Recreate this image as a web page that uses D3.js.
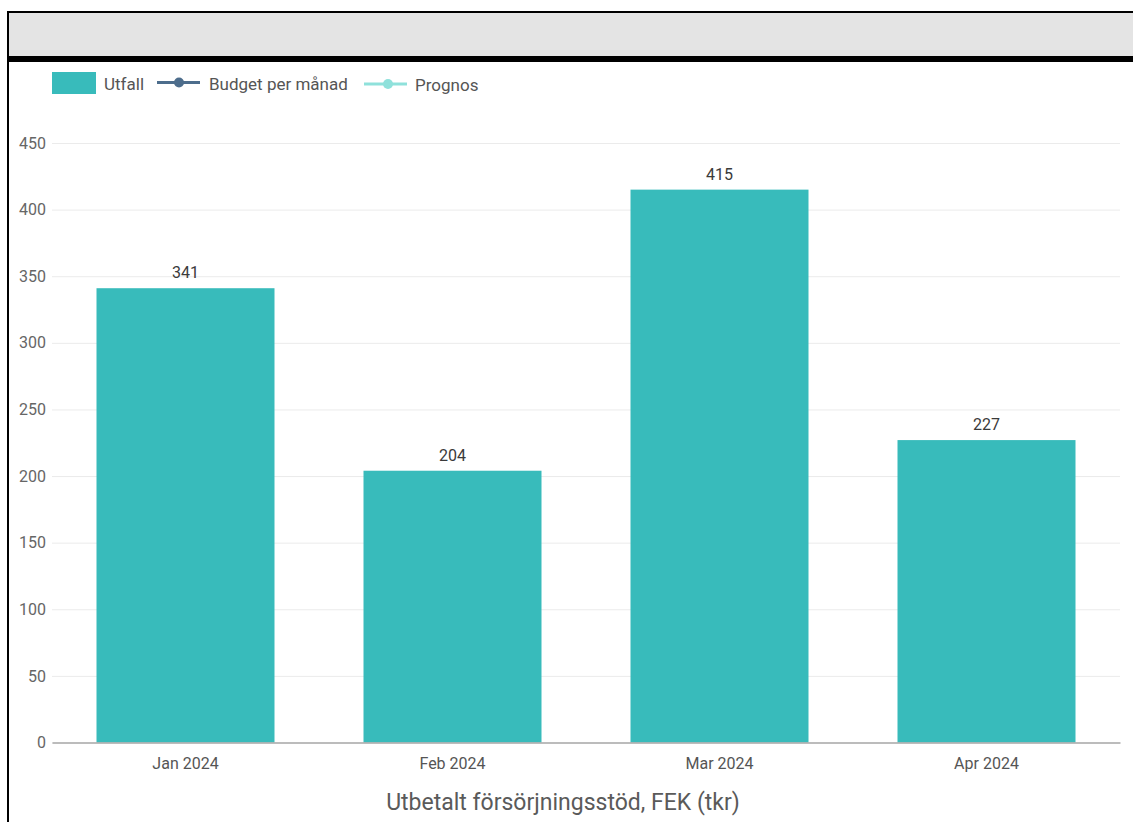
<!DOCTYPE html>
<html>
<head>
<meta charset="utf-8">
<script src="https://cdn.jsdelivr.net/npm/d3@7"></script>
<style>
  html, body { margin: 0; padding: 0; background: #fff; }
  svg { display: block; font-family: Roboto, "Noto Sans", sans-serif; }
</style>
</head>
<body>
<svg id="chart" width="1133" height="822"></svg>
<script>
// Monthly paid-out income support (tkr)
const months = ["Jan 2024", "Feb 2024", "Mar 2024", "Apr 2024"];
const utfall = [341, 204, 415, 227];
const yTicks = [0, 50, 100, 150, 200, 250, 300, 350, 400, 450];
const legendItems = ["Utfall", "Budget per månad", "Prognos"];
const axisTitle = "Utbetalt försörjningsstöd, FEK (tkr)";

const W = 1133, H = 822;
const margin = { left: 52, right: 13 };
const svg = d3.select("#chart");

// Frame: header band and left edge
svg.append("rect").attr("x", 7).attr("y", 12).attr("width", W - 7).attr("height", 45).attr("fill", "#e4e4e4");
svg.append("line").attr("x1", 7).attr("x2", W).attr("y1", 12).attr("y2", 12).attr("stroke", "#000").attr("stroke-width", 2);
svg.append("rect").attr("x", 7).attr("y", 56).attr("width", W - 7).attr("height", 6).attr("fill", "#000");
svg.append("line").attr("x1", 8).attr("x2", 8).attr("y1", 11).attr("y2", H).attr("stroke", "#000").attr("stroke-width", 2);

const x = d3.scaleBand()
  .domain(months)
  .range([margin.left, W - margin.right])
  .paddingInner(1 / 3)
  .paddingOuter(1 / 6);

const y = d3.scaleLinear()
  .domain([0, 450])
  .range([742.5, 143]);

// Gridlines
const grid = svg.append("g")
  .attr("transform", `translate(${margin.left},0)`)
  .call(d3.axisLeft(y).tickValues(yTicks).tickSize(-(W - margin.right - margin.left)).tickFormat(""));
grid.select(".domain").remove();
grid.selectAll(".tick line").attr("stroke", "#ebebeb").attr("stroke-width", 1);

// Y tick labels
const yAxis = svg.append("g")
  .attr("transform", `translate(${margin.left},0)`)
  .call(d3.axisLeft(y).tickValues(yTicks).tickSize(0).tickPadding(6));
yAxis.select(".domain").remove();
yAxis.selectAll("text").attr("fill", "#666").style("font-size", "16px").style("font-family", "Roboto, sans-serif");

// Bars
svg.append("g").selectAll("rect")
  .data(utfall)
  .join("rect")
  .attr("x", (d, i) => x(months[i]))
  .attr("y", d => y(d))
  .attr("width", x.bandwidth())
  .attr("height", d => y(0) - y(d))
  .attr("fill", "#38bbbb");

// Value labels
svg.append("g").selectAll("text")
  .data(utfall)
  .join("text")
  .attr("x", (d, i) => x(months[i]) + x.bandwidth() / 2)
  .attr("y", d => y(d) - 10)
  .attr("text-anchor", "middle")
  .attr("fill", "#3a3a3a")
  .style("font-size", "16px")
  .text(d => d);

// X axis
const xAxis = svg.append("g")
  .attr("transform", `translate(0,${y(0)})`)
  .call(d3.axisBottom(x).tickSize(0).tickPadding(15));
xAxis.select(".domain").attr("stroke", "#a8a8a8").attr("stroke-width", 1.5);
xAxis.selectAll("text").attr("fill", "#555").style("font-size", "16px").style("font-family", "Roboto, sans-serif");

// Axis title
svg.append("text")
  .attr("x", 563)
  .attr("y", 810)
  .attr("text-anchor", "middle")
  .attr("fill", "#5a5a5a")
  .style("font-size", "23px")
  .text(axisTitle);

// Legend
const lg = svg.append("g").style("font-size", "17px");
lg.append("rect").attr("x", 52).attr("y", 72).attr("width", 44).attr("height", 22).attr("fill", "#38bbbb");
lg.append("text").attr("x", 104).attr("y", 90).attr("fill", "#555").text(legendItems[0]);

lg.append("line").attr("x1", 157).attr("x2", 200).attr("y1", 82.5).attr("y2", 82.5).attr("stroke", "#4d6d8c").attr("stroke-width", 3);
lg.append("circle").attr("cx", 179).attr("cy", 82.5).attr("r", 5).attr("fill", "#4d6d8c");
lg.append("text").attr("x", 209).attr("y", 90).attr("fill", "#555").text(legendItems[1]);

lg.append("line").attr("x1", 364).attr("x2", 407).attr("y1", 84).attr("y2", 84).attr("stroke", "#8fe1db").attr("stroke-width", 3);
lg.append("circle").attr("cx", 388).attr("cy", 84).attr("r", 5).attr("fill", "#8fe1db");
lg.append("text").attr("x", 415).attr("y", 91).attr("fill", "#555").text(legendItems[2]);
</script>
</body>
</html>
